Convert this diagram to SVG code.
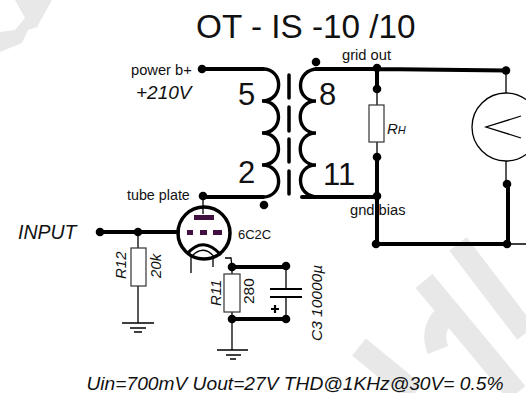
<svg xmlns="http://www.w3.org/2000/svg" width="526" height="393" viewBox="0 0 526 393">
<style>
text{font-family:"Liberation Sans",Arial,sans-serif;fill:#111}
.th{fill:none;stroke:#000;stroke-width:4;stroke-linecap:round;stroke-linejoin:round}
.tn{fill:none;stroke:#000;stroke-width:1.3}
.coil{fill:none;stroke:#000;stroke-width:3.400;stroke-linecap:round}
.res{fill:#fff;stroke:#333;stroke-width:1.200}
.p{fill:#401040}
.i{font-style:italic}
.wm{fill:none;stroke:#e8e8e8;stroke-width:22}
</style>
<defs><circle id="dot" r="4.300" fill="#000"/></defs>
<rect width="526" height="393" fill="#fff"/>
<path d="M52 0L37 27L28 30L22 43L0 52V32L15 30L25 18L15 0Z" fill="#e8e8e8"/>
<path class="wm" d="M458 244L526 333M424 281L517 393M359 347L415 393M438 350Q428 325 454 308"/>
<text x="196" y="38" font-size="33.300">OT - IS -10 /10</text>
<text x="350" y="215" font-size="14.700">gnd bias</text>
<g id="connectors">
<path class="th" d="M202 69H263M203 197H263M316 69H377L506 70.500M377 68V89M377 157V244M302 197H377M377 244H508M508 184V244"/>
<path class="tn" d="M377 89V105M377 142V157M506 71V93M506 161V184M508 244H526M203 195V214M138 232V248M138 286V323M232 267V274M232 312V350M225 258H231L232 267M286 266V289M286 297V319"/>
<path class="th" d="M100 232H178M232 267H286M232 319H286"/>
</g>
<g id="primary">
<path class="coil" d="M263 69C284 69 284 101 262 101C284 101 284 133 262 133C284 133 284 165 262 165C284 165 284 197 263 197"/>
<text x="238" y="105" font-size="31">5</text>
<text x="238" y="183" font-size="31">2</text>
<use href="#dot" x="202" y="69"/><use href="#dot" x="203" y="196"/><use href="#dot" x="264" y="205"/>
<text x="131" y="75" font-size="14.700">power b+</text>
<text class="i" x="136" y="99" font-size="19">+210V</text>
<text x="127" y="200" font-size="14.300">tube plate</text>
</g>
<g id="core"><path d="M289 75V98M289 107V131M289 139V162M289 171V194" fill="none" stroke="#000" stroke-width="3.500" stroke-linecap="round"/></g>
<g id="secondary">
<path class="coil" d="M318 69C295 69 295 101 316 101C295 101 295 133 316 133C295 133 295 165 316 165C295 165 295 197 318 197"/>
<text x="319" y="105" font-size="31">8</text>
<text x="323" y="185" font-size="31">11</text>
<use href="#dot" x="316" y="62"/>
<text x="342" y="60" font-size="14.700">grid out</text>
<use href="#dot" x="377" y="68"/><use href="#dot" x="377" y="196"/><use href="#dot" x="376" y="244"/>
</g>
<g id="rh">
<rect class="res" x="369" y="105" width="15" height="37"/>
<use href="#dot" x="377" y="89"/><use href="#dot" x="377" y="157"/>
<text class="i" x="387" y="134" font-size="15">R<tspan font-size="11">H</tspan></text>
</g>
<g id="meter">
<circle cx="506" cy="127" r="34" fill="#fff" stroke="#000" stroke-width="1.300"/>
<path d="M521 116L486 127L521 138" fill="none" stroke="#000" stroke-width="1.300"/>
<use href="#dot" x="506" y="70.500"/><use href="#dot" x="507" y="184"/><use href="#dot" x="507" y="244"/>
</g>
<g id="input">
<use href="#dot" x="100" y="232"/><use href="#dot" x="138" y="232"/>
<text class="i" x="18" y="239" font-size="19.500">INPUT</text>
</g>
<g id="r12">
<rect class="res" x="131" y="248" width="15" height="38"/>
<text class="i" transform="translate(126 279) rotate(-90)" font-size="15">R12</text>
<text class="i" transform="translate(161 278) rotate(-90)" font-size="15">20k</text>
<path class="tn" d="M122 323H154M130 328H146M134 332H142"/>
</g>
<g id="tube">
<circle cx="204" cy="233" r="26" fill="none" stroke="#000" stroke-width="3.500"/>
<rect class="p" x="194" y="215" width="20" height="5"/>
<rect class="p" x="187" y="230" width="6" height="5"/><rect class="p" x="200" y="230" width="7" height="5"/><rect class="p" x="213" y="230" width="9" height="5"/>
<path d="M187 254Q203 235 221 255" fill="none" stroke="#000" stroke-width="3"/>
<path d="M191 257Q204 243 215 258M191 256V273M213 259V267" fill="none" stroke="#000" stroke-width="1.300"/>
<text x="238" y="239" font-size="13">6C2C</text>
</g>
<g id="r11">
<rect class="res" x="224" y="274" width="16" height="38"/>
<use href="#dot" x="232" y="267"/><use href="#dot" x="232" y="319"/>
<text class="i" transform="translate(221 306) rotate(-90)" font-size="15">R11</text>
<text transform="translate(254 304) rotate(-90)" font-size="15.500">280</text>
<path class="tn" d="M217 350H248M226 355H241M230 359H236"/>
</g>
<g id="c3">
<path d="M270 289H302M270 297H302" fill="none" stroke="#000" stroke-width="2"/>
<path d="M271 309H279M275 305V313" fill="none" stroke="#000" stroke-width="2.200"/>
<use href="#dot" x="286" y="266"/><use href="#dot" x="286" y="319"/>
<text class="i" transform="translate(322 341) rotate(-90)" font-size="15.500">C3  10000µ</text>
</g>
<text class="i" x="86.500" y="390" font-size="19.200">Uin=700mV Uout=27V THD@1KHz@30V= 0.5%</text>
</svg>
